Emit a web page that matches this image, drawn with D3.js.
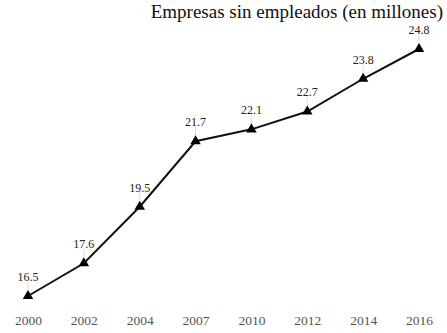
<!DOCTYPE html>
<html><head><meta charset="utf-8">
<script src="https://cdn.jsdelivr.net/npm/d3@7"></script>
<style>body{margin:0;background:#fff}</style>
</head><body>
<svg id="c" width="447" height="333"></svg>
<script>
const years = ["2000","2002","2004","2007","2010","2012","2014","2016"];
const values = [16.5, 17.6, 19.5, 21.7, 22.1, 22.7, 23.8, 24.8];
const title = "Empresas sin empleados (en millones)";

const svg = d3.select("#c");
const font = "'Liberation Serif', 'DejaVu Serif', serif";
const x = d3.scalePoint().domain(years).range([28, 419]);
const y = d3.scaleLinear().domain([16.5, 24.8]).range([296, 49]);
const data = years.map((yr, i) => ({yr, v: values[i]}));

svg.append("text").attr("x", 443).attr("y", 18).attr("text-anchor", "end")
  .attr("font-family", font).attr("font-size", 19).attr("fill", "#111").text(title);

// leader lines
svg.selectAll(".lead").data(data).enter().append("line")
  .attr("x1", d => x(d.yr)).attr("x2", d => x(d.yr))
  .attr("y1", d => y(d.v) - 14).attr("y2", d => y(d.v))
  .attr("stroke", "#ddd").attr("stroke-width", 1);

svg.append("path").datum(data)
  .attr("d", d3.line().x(d => x(d.yr)).y(d => y(d.v)))
  .attr("fill", "none").attr("stroke", "#111").attr("stroke-width", 2);

svg.selectAll(".tri").data(data).enter().append("path")
  .attr("d", d3.symbol().type(d3.symbolTriangle).size(48))
  .attr("transform", d => `translate(${x(d.yr)},${y(d.v)})`)
  .attr("fill", "#000");

svg.selectAll(".lbl").data(data).enter().append("text")
  .attr("x", d => x(d.yr)).attr("y", d => y(d.v) - 15)
  .attr("text-anchor", "middle").attr("font-family", font).attr("font-size", 12)
  .attr("fill", "#222").text(d => d.v.toFixed(1));

const ax = svg.append("g").attr("transform", "translate(0,315)")
  .call(d3.axisBottom(x).tickSize(0).tickPadding(0));
ax.select(".domain").remove();
ax.selectAll("text").attr("font-family", font).attr("font-size", 13.5).attr("fill", "#555");
</script>
</body></html>
